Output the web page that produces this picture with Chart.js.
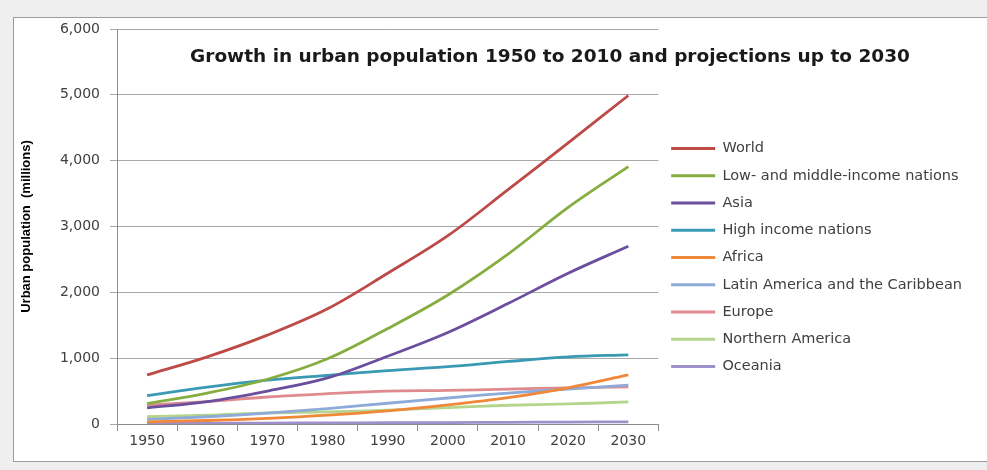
<!DOCTYPE html>
<html>
<head>
<meta charset="utf-8">
<title>Growth in urban population</title>
<script src="https://cdn.jsdelivr.net/npm/chart.js@4"></script>
<style>
    html, body { margin: 0; padding: 0; background: #efefef; }
    .chart-wrap { position: relative; width: 987px; height: 470px; }
</style>
</head>
<body>
<div class="chart-wrap">
    <canvas id="urbanChart"></canvas>
</div>
<script>
// Urban population in millions
const years = ['1950', '1960', '1970', '1980', '1990', '2000', '2010', '2020', '2030'];

const world        = [745, 1020, 1350, 1750, 2290, 2860, 3560, 4270, 4990];
const lowMiddle    = [310, 470, 680, 990, 1450, 1960, 2580, 3290, 3910];
const asia         = [245, 340, 500, 700, 1030, 1390, 1830, 2290, 2700];
const highIncome   = [430, 560, 665, 740, 810, 870, 950, 1020, 1050];
const africa       = [33, 53, 86, 134, 200, 290, 400, 550, 745];
const latinAmerica = [70, 110, 165, 235, 315, 395, 470, 530, 590];
const europe       = [285, 340, 410, 460, 500, 510, 530, 550, 565];
const northAmerica = [110, 135, 170, 185, 210, 250, 285, 305, 335];
const oceania      = [8, 11, 14, 16, 19, 22, 26, 29, 33];

const yTickValues = [0, 1000, 2000, 3000, 4000, 5000, 6000];

const chartTitle = 'Growth in urban population 1950 to 2010 and projections up to 2030';
const yAxisTitle = 'Urban population  (millions)';

function series(label, data, color) {
    return {
        label: label,
        data: data,
        borderColor: color,
        backgroundColor: color,
        borderWidth: 2.8,
        pointRadius: 0,
        pointHoverRadius: 0,
        tension: 0.35,
        fill: false
    };
}

// White framed panel behind the chart
const panelBackground = {
    id: 'panelBackground',
    beforeDraw(chart) {
        const ctx = chart.ctx;
        ctx.save();
        ctx.fillStyle = '#efefef';
        ctx.fillRect(0, 0, chart.width, chart.height);
        ctx.fillStyle = '#ffffff';
        ctx.fillRect(13, 17, chart.width, 445);
        ctx.strokeStyle = '#9c9c9c';
        ctx.lineWidth = 1;
        ctx.strokeRect(13.5, 17.5, chart.width + 10, 444);
        ctx.restore();
    }
};

// Title sits inside the plot area, above the lines
const overlayTitle = {
    id: 'overlayTitle',
    afterDraw(chart) {
        const ctx = chart.ctx;
        const area = chart.chartArea;
        ctx.save();
        ctx.font = 'bold 18.5px "DejaVu Sans"';
        ctx.fillStyle = '#1a1a1a';
        ctx.textAlign = 'center';
        ctx.textBaseline = 'middle';
        ctx.fillText(chartTitle, (area.left + chart.width) / 2 - 2, area.top + 28);
        ctx.restore();
    }
};

// Nudge the legend block down a little, like the original
const legendOffset = {
    id: 'legendOffset',
    afterLayout(chart) {
        if (chart.legend) {
            chart.legend.top += 8;
            chart.legend.bottom += 8;
        }
    }
};

document.addEventListener('DOMContentLoaded', function() {
    const ctx = document.getElementById('urbanChart');

    new Chart(ctx, {
        type: 'line',
        data: {
            labels: years,
            datasets: [
                series('World', world, '#bd4a47'),
                series('Low- and middle-income nations', lowMiddle, '#86ad3f'),
                series('Asia', asia, '#6a4f9e'),
                series('High income nations', highIncome, '#3a9ab3'),
                series('Africa', africa, '#f0883a'),
                series('Latin America and the Caribbean', latinAmerica, '#8eaad8'),
                series('Europe', europe, '#de8a8e'),
                series('Northern America', northAmerica, '#b5d58c'),
                series('Oceania', oceania, '#9d90cb')
            ]
        },
        options: {
            responsive: true,
            maintainAspectRatio: false,
            animation: false,
            layout: {
                padding: { left: 16, right: 15, top: 29, bottom: 0 }
            },
            plugins: {
                legend: {
                    position: 'right',
                    align: 'center',
                    maxWidth: 314,
                    labels: {
                        usePointStyle: true,
                        pointStyle: 'line',
                        pointStyleWidth: 44,
                        boxHeight: 14,
                        padding: 12.75,
                        color: '#404040',
                        font: { family: '"DejaVu Sans"', size: 14.5 }
                    }
                },
                tooltip: { enabled: false }
            },
            scales: {
                x: {
                    offset: true,
                    grid: {
                        offset: true,
                        drawOnChartArea: false,
                        drawTicks: true,
                        tickLength: 7,
                        color: '#8c8c8c'
                    },
                    border: { color: '#8c8c8c' },
                    ticks: {
                        padding: 2,
                        color: '#404040',
                        maxRotation: 0,
                        font: { family: '"DejaVu Sans"', size: 14 }
                    },
                    afterFit: function(scale) {
                        scale.height = 46;
                    }
                },
                y: {
                    min: 0,
                    max: 6000,
                    afterBuildTicks: function(axis) {
                        axis.ticks = yTickValues.map(v => ({ value: v }));
                    },
                    grid: {
                        color: '#a8a8a8',
                        tickLength: 7
                    },
                    border: { color: '#8c8c8c' },
                    ticks: {
                        padding: 10,
                        color: '#404040',
                        font: { family: '"DejaVu Sans"', size: 14 },
                        callback: function(value) {
                            return value.toLocaleString('en-US');
                        }
                    },
                    title: {
                        display: true,
                        text: yAxisTitle,
                        color: '#000000',
                        padding: { top: 3, bottom: 0 },
                        font: { family: '"Liberation Sans"', size: 13, weight: 'bold' }
                    },
                    afterFit: function(scale) {
                        scale.width = 101;
                    }
                }
            }
        },
        plugins: [panelBackground, overlayTitle, legendOffset]
    });
});
</script>
</body>
</html>
